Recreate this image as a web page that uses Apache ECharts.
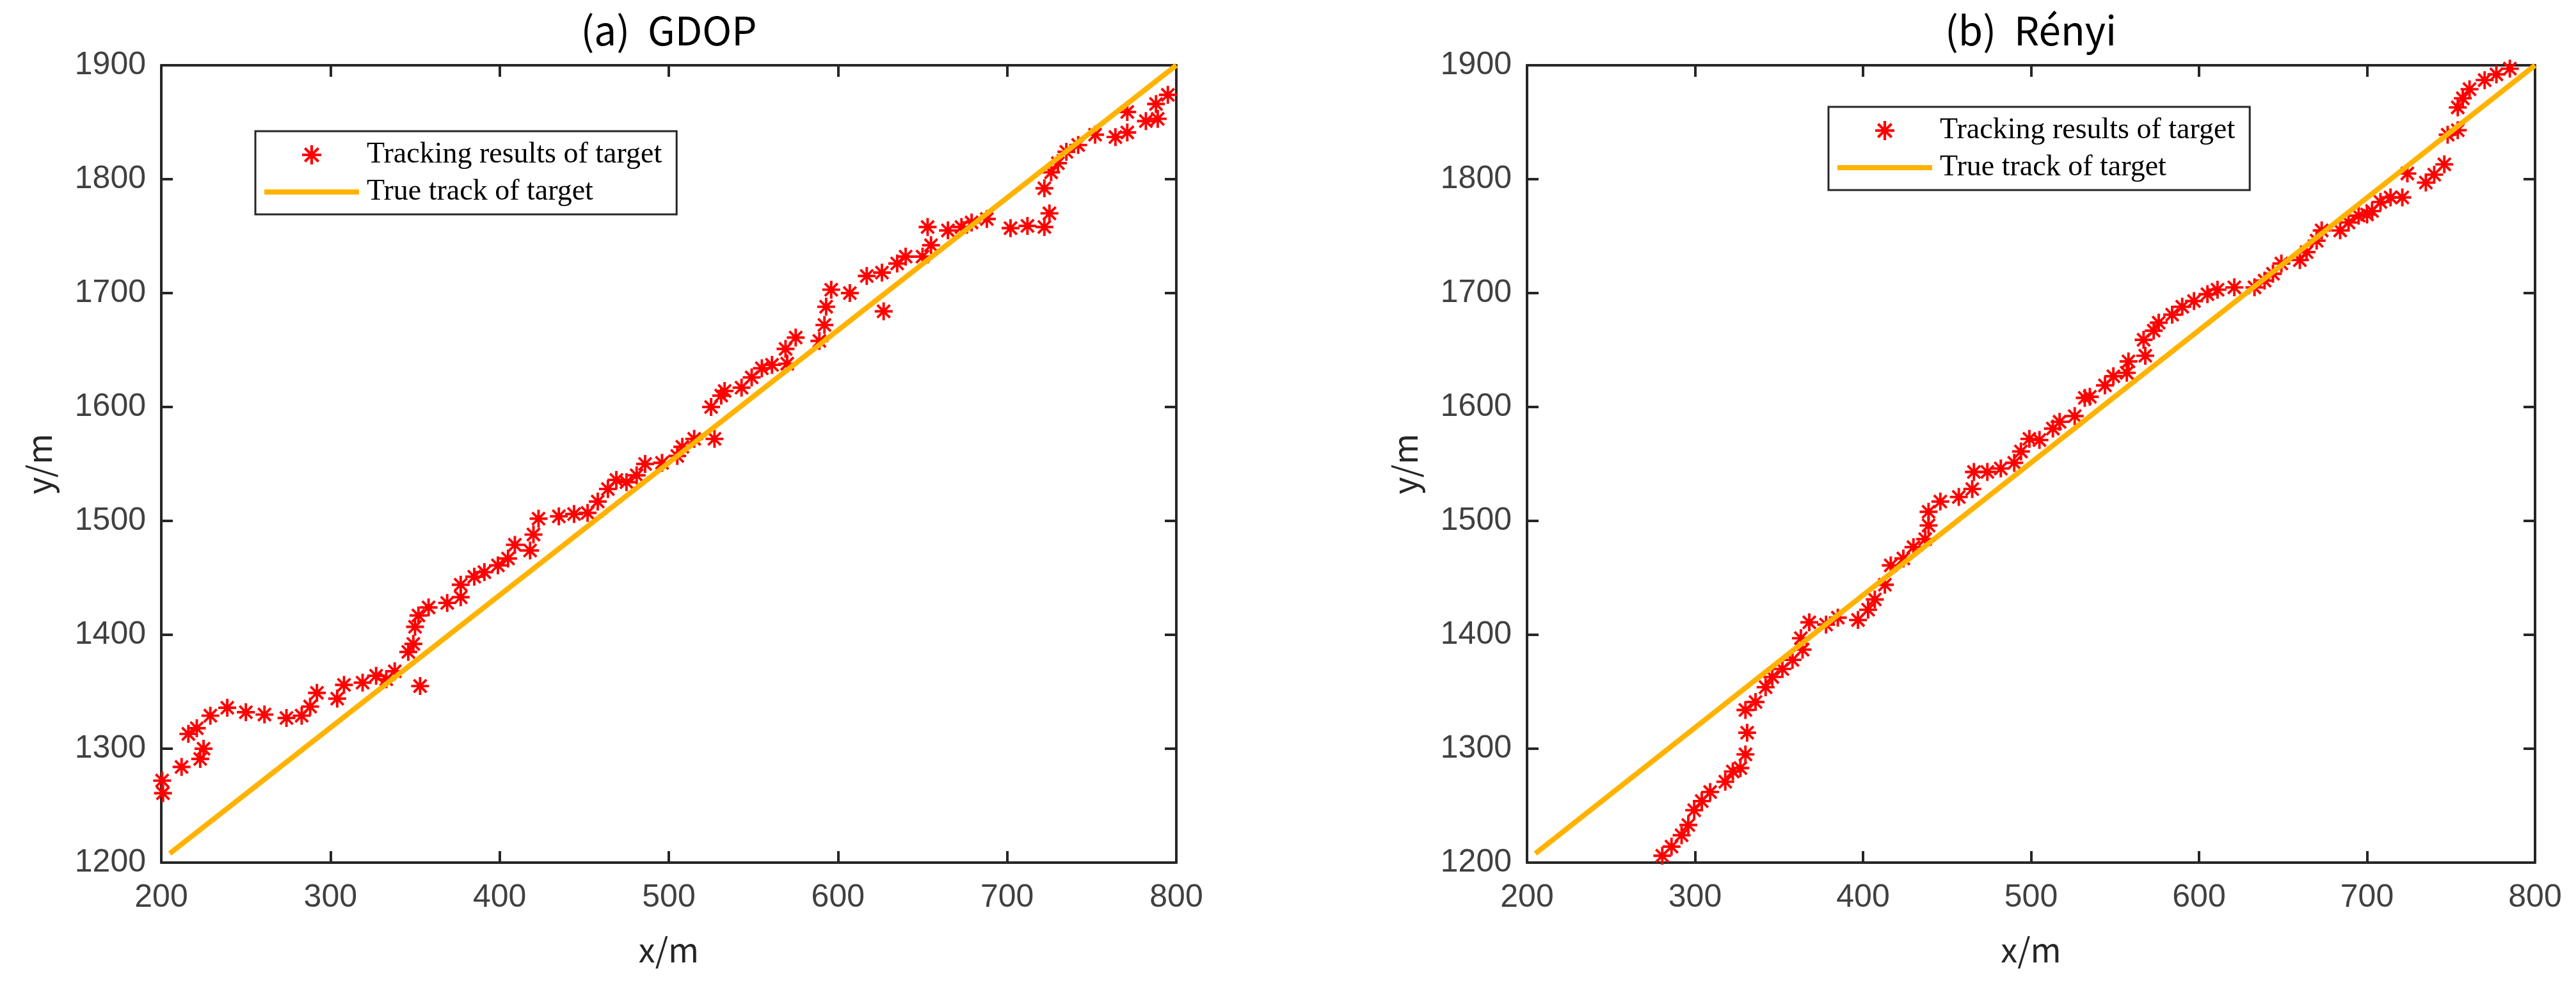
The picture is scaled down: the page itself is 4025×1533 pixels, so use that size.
<!DOCTYPE html>
<html lang="en">
<head>
<meta charset="utf-8">
<title>GDOP vs Renyi tracking</title>
<script src="https://cdn.jsdelivr.net/npm/echarts@6/dist/echarts.min.js"></script>
<style>
  html, body, #main { width: 100%; height: 100%; margin: 0; padding: 0; background: #fff; }
</style>
</head>
<body>
<div id="main"></div>
<script>
// tracking results (a) GDOP
var gdopX = [200.5, 201, 212, 216, 221, 223, 225, 229, 239, 250, 261, 274, 283, 288, 292, 304, 308, 319, 327, 333,
  338, 346, 349, 350, 352, 353, 358, 369, 377, 377, 385, 391, 399, 405, 409, 418, 420, 423, 435, 444,
  452, 458, 464, 469, 475, 481, 486, 496, 505, 508, 515, 527, 525, 531, 533, 543, 549, 555, 561, 570,
  569, 575, 589, 592, 593, 596, 607, 617, 626, 627, 635, 640, 650, 653, 655, 665, 673, 679, 688, 702,
  712, 722, 722, 725, 726, 730, 735, 742, 752, 764, 771, 771, 782, 788, 789, 795];
var gdopY = [1272, 1261, 1284, 1313, 1318, 1291, 1300, 1329, 1336, 1332, 1330, 1327, 1329, 1337, 1349, 1344, 1356, 1358, 1364, 1361,
  1368, 1385, 1392, 1407, 1417, 1355, 1424, 1428, 1433, 1444, 1451, 1455, 1461, 1467, 1479, 1474, 1488, 1502, 1504, 1506,
  1507, 1517, 1528, 1536, 1534, 1540, 1550, 1551, 1557, 1565, 1572, 1572, 1600, 1610, 1614, 1617, 1626, 1634, 1637, 1638,
  1651, 1661, 1658, 1672, 1688, 1703, 1700, 1715, 1718, 1684, 1726, 1732, 1732, 1758, 1742, 1755, 1758, 1762, 1765, 1757,
  1759, 1758, 1792, 1770, 1806, 1814, 1824, 1830, 1839, 1837, 1841, 1859, 1851, 1866, 1853, 1874];

// tracking results (b) Renyi
var renyiX = [280.5, 286, 292, 296, 299.5, 304, 309, 318, 322.5, 327, 330, 331, 330, 336, 342, 346, 352, 358, 364, 363,
  368, 378, 385, 397, 403, 407, 413, 416.5, 424, 430, 437, 439, 439, 446, 457, 465, 466, 474, 482, 490,
  494, 499, 505, 513, 517, 526, 532, 535, 544, 549, 557, 558, 568, 567, 573, 576, 584, 590, 597, 605,
  611, 621, 633, 639, 644, 649, 660, 664, 670, 673, 684, 689, 695, 700, 703, 708, 714, 721, 724, 735,
  740, 746, 748, 754, 754, 757, 761, 770, 777, 785];
var renyiY = [1206, 1214, 1224, 1233, 1246, 1254, 1262, 1271, 1280, 1283, 1295, 1314, 1334, 1341, 1354, 1363, 1370, 1378, 1387, 1397,
  1411, 1409, 1415, 1413, 1422, 1431, 1444, 1461, 1467, 1477, 1484, 1496, 1508, 1517, 1521, 1528, 1543, 1543, 1546, 1551,
  1561, 1572, 1571, 1581, 1587, 1592, 1608, 1609, 1619, 1627, 1630, 1640, 1645, 1659, 1667, 1674, 1681, 1688, 1693, 1699,
  1703, 1705, 1705, 1711, 1717, 1726, 1729, 1736, 1746, 1755, 1755, 1762, 1768, 1769, 1772, 1780, 1784, 1784, 1805, 1797,
  1804, 1813, 1839, 1843, 1863, 1871, 1879, 1887, 1892, 1897];

// true track (straight line)
var trueX = [205, 800];
var trueY = [1208, 1900];

var titles = ['(a)  GDOP', '(b)  Rényi'];
var names = ['Tracking results of target', 'True track of target'];

function zip(xs, ys) {
  return xs.map(function (x, i) { return [x, ys[i]]; });
}

// MATLAB style '*' marker
var star = 'path://M-1.4,-10h2.8v20h-2.8z M-10,-1.4h20v2.8h-20z ' +
  'M-6.08,-8.06L8.06,6.08L6.08,8.06L-8.06,-6.08z M6.08,-8.06L8.06,-6.08L-6.08,8.06L-8.06,6.08z';
var bar = 'path://M0,0h148v8h-148z';

var axisCol = '#262626';
var grids = [
  { left: 252, top: 102, width: 1586, height: 1246 },
  { left: 2386, top: 102, width: 1575, height: 1246 }
];

function xAx(g, pos) {
  var main = pos === 'bottom';
  return {
    type: 'value', gridIndex: g, position: pos, min: 200, max: 800, interval: 100,
    name: main ? 'x/m' : '', nameLocation: 'middle', nameGap: 110,
    nameTextStyle: { fontFamily: 'Noto Sans CJK SC', fontSize: 52, color: axisCol },
    axisLine: { show: true, onZero: false, lineStyle: { color: axisCol, width: 4 } },
    axisTick: { show: true, inside: true, length: 18, lineStyle: { color: axisCol, width: 4 } },
    axisLabel: { show: main, margin: 30, fontFamily: 'Liberation Sans', fontSize: 50, color: '#404040',
      formatter: function (v) { return String(v); } },
    splitLine: { show: false }
  };
}
function yAx(g, pos) {
  var main = pos === 'left';
  return {
    type: 'value', gridIndex: g, position: pos, min: 1200, max: 1900, interval: 100,
    name: main ? 'y/m' : '', nameLocation: 'middle', nameGap: 165, nameRotate: 90,
    nameTextStyle: { fontFamily: 'Noto Sans CJK SC', fontSize: 52, color: axisCol },
    axisLine: { show: true, onZero: false, lineStyle: { color: axisCol, width: 4 } },
    axisTick: { show: true, inside: true, length: 18, lineStyle: { color: axisCol, width: 4 } },
    axisLabel: { show: main, margin: 24, fontFamily: 'Liberation Sans', fontSize: 50, color: '#404040',
      formatter: function (v) { return String(v); } },
    splitLine: { show: false }
  };
}

function legendAt(left, top) {
  return {
    left: left, top: top, orient: 'vertical', selectedMode: false,
    data: [{ name: names[0] }, { name: names[1], icon: bar }],
    backgroundColor: '#fff',
    borderColor: axisCol, borderWidth: 3, borderRadius: 0,
    padding: [14, 23, 12, 14],
    itemWidth: 148, itemHeight: 30, itemGap: 12,
    textStyle: { fontFamily: 'Liberation Serif', fontSize: 46, lineHeight: 46, color: '#000', padding: [0, 0, 0, 7] }
  };
}

var datasets = [zip(gdopX, gdopY), zip(renyiX, renyiY)];
var series = [];
[0, 1].forEach(function (g) {
  series.push({
    name: names[0], type: 'scatter', xAxisIndex: g * 2, yAxisIndex: g * 2,
    data: datasets[g], symbol: star, symbolSize: 28, clip: false,
    itemStyle: { color: '#ff0000', opacity: 1 }, z: 2
  });
  series.push({
    name: names[1], type: 'line', xAxisIndex: g * 2, yAxisIndex: g * 2,
    data: zip(trueX, trueY), symbol: 'none', clip: false,
    itemStyle: { color: '#ffb300' },
    lineStyle: { color: '#ffb300', width: 8 }, z: 3
  });
});

var myChart = echarts.init(document.getElementById('main'));
myChart.setOption({
  backgroundColor: '#fff',
  animation: false,
  title: [
    { text: titles[0], left: 1045, top: 16, textAlign: 'center', padding: 0,
      textStyle: { fontFamily: 'Noto Sans CJK SC', fontSize: 62, fontWeight: 'normal', color: '#000' } },
    { text: titles[1], left: 3173, top: 16, textAlign: 'center', padding: 0,
      textStyle: { fontFamily: 'Noto Sans CJK SC', fontSize: 62, fontWeight: 'normal', color: '#000' } }
  ],
  legend: [legendAt(399, 205), legendAt(2857, 167)],
  grid: grids,
  xAxis: [xAx(0, 'bottom'), xAx(0, 'top'), xAx(1, 'bottom'), xAx(1, 'top')],
  yAxis: [yAx(0, 'left'), yAx(0, 'right'), yAx(1, 'left'), yAx(1, 'right')],
  series: series
});
</script>
</body>
</html>
